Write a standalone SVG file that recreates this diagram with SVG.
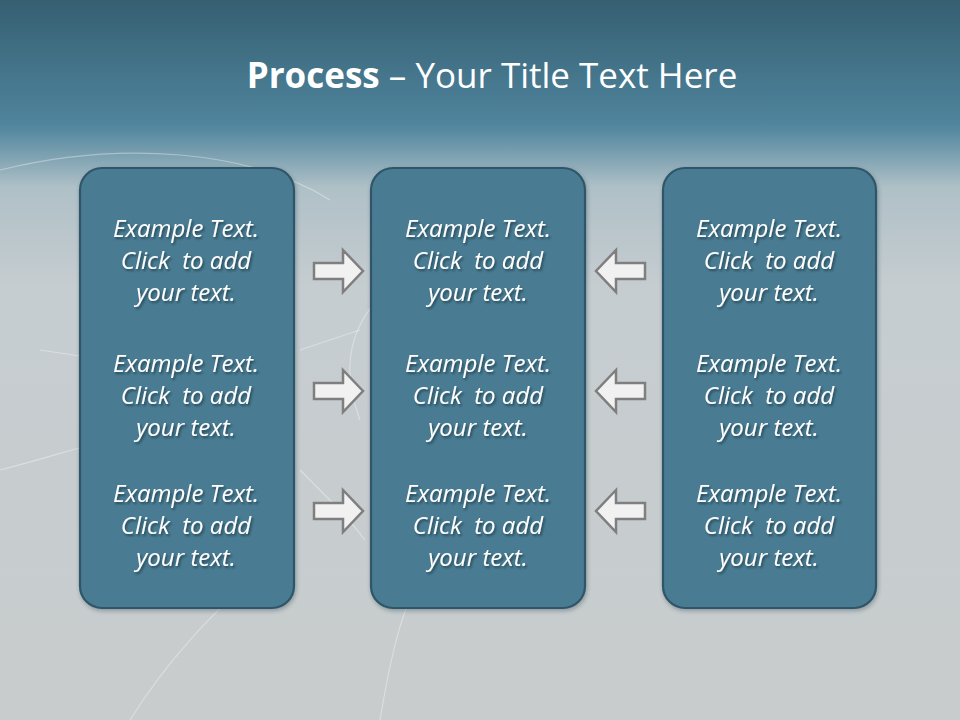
<svg xmlns="http://www.w3.org/2000/svg" width="960" height="720" viewBox="0 0 960 720">
<defs>
<linearGradient id="bg" x1="0" y1="0" x2="0" y2="1">
<stop offset="0" stop-color="#365f72"/>
<stop offset="0.17" stop-color="#4e849c"/>
<stop offset="0.185" stop-color="#5a8ca2"/>
<stop offset="0.26" stop-color="#afc0c7"/>
<stop offset="0.4" stop-color="#c6cdd0"/>
<stop offset="1" stop-color="#c8cccd"/>
</linearGradient>
<filter id="sh" x="-10%" y="-20%" width="130%" height="150%">
<feDropShadow dx="1.5" dy="2" stdDeviation="1.2" flood-color="#1d3440" flood-opacity="0.75"/>
</filter>
<filter id="bsh" x="-5%" y="-5%" width="115%" height="115%">
<feDropShadow dx="1" dy="2" stdDeviation="2" flood-color="#203844" flood-opacity="0.35"/>
</filter>
<path id="ar" d="M0,-8 L29,-8 L29,-21 L49,0 L29,21 L29,8 L0,8 Z"/>
</defs>
<style>
.box{fill:#4a7b93;stroke:#2f5668;stroke-width:2.2}
.t{font-family:"Open Sans","Liberation Sans",sans-serif;font-style:italic;font-size:24px;fill:#ffffff;text-anchor:middle;white-space:pre}
.arr{fill:#f1f1f1;stroke:#7f7f7f;stroke-width:2.5;stroke-linejoin:miter}
.crack{fill:none;stroke:#ffffff;stroke-opacity:0.35;stroke-width:1.2}
</style>
<rect width="960" height="720" fill="url(#bg)"/>
<g id="cracks">
<path class="crack" d="M0,170 C120,140 250,150 330,200"/>
<path class="crack" d="M360,420 C330,340 370,300 420,260"/>
<path class="crack" d="M130,720 C180,640 230,600 270,560"/>
<path class="crack" d="M380,720 C390,660 400,620 410,600"/>
<path class="crack" d="M0,470 C40,460 70,450 90,445"/>
<path class="crack" d="M300,350 L360,330"/>
<path class="crack" d="M300,470 C330,500 350,520 365,540"/>
<path class="crack" d="M40,350 L80,356"/>
</g>
<g id="title">
<text x="492" y="88" text-anchor="middle" font-family="'Open Sans','Liberation Sans',sans-serif" font-size="35" fill="#ffffff"><tspan font-weight="bold">Process</tspan> – Your Title Text Here</text>
</g>
<g id="box-left" filter="url(#bsh)">
<rect class="box" x="80" y="168" width="214" height="440" rx="22"/>
</g>
<g id="box-middle" filter="url(#bsh)">
<rect class="box" x="371" y="168" width="214" height="440" rx="22"/>
</g>
<g id="box-right" filter="url(#bsh)">
<rect class="box" x="663" y="168" width="213" height="440" rx="22"/>
</g>
<g id="texts" filter="url(#sh)">
<text class="t" x="186" y="237">Example Text.</text><text class="t" x="186" y="269">Click  to add</text><text class="t" x="186" y="301">your text.</text>
<text class="t" x="186" y="372">Example Text.</text><text class="t" x="186" y="404">Click  to add</text><text class="t" x="186" y="436">your text.</text>
<text class="t" x="186" y="502">Example Text.</text><text class="t" x="186" y="534">Click  to add</text><text class="t" x="186" y="566">your text.</text>
<text class="t" x="478" y="237">Example Text.</text><text class="t" x="478" y="269">Click  to add</text><text class="t" x="478" y="301">your text.</text>
<text class="t" x="478" y="372">Example Text.</text><text class="t" x="478" y="404">Click  to add</text><text class="t" x="478" y="436">your text.</text>
<text class="t" x="478" y="502">Example Text.</text><text class="t" x="478" y="534">Click  to add</text><text class="t" x="478" y="566">your text.</text>
<text class="t" x="769" y="237">Example Text.</text><text class="t" x="769" y="269">Click  to add</text><text class="t" x="769" y="301">your text.</text>
<text class="t" x="769" y="372">Example Text.</text><text class="t" x="769" y="404">Click  to add</text><text class="t" x="769" y="436">your text.</text>
<text class="t" x="769" y="502">Example Text.</text><text class="t" x="769" y="534">Click  to add</text><text class="t" x="769" y="566">your text.</text>
</g>
<g id="connectors">
<use href="#ar" class="arr" transform="translate(314,271)"/>
<use href="#ar" class="arr" transform="translate(314,391)"/>
<use href="#ar" class="arr" transform="translate(314,511)"/>
<use href="#ar" class="arr" transform="translate(645,271) scale(-1,1)"/>
<use href="#ar" class="arr" transform="translate(645,391) scale(-1,1)"/>
<use href="#ar" class="arr" transform="translate(645,511) scale(-1,1)"/>
</g>
</svg>
